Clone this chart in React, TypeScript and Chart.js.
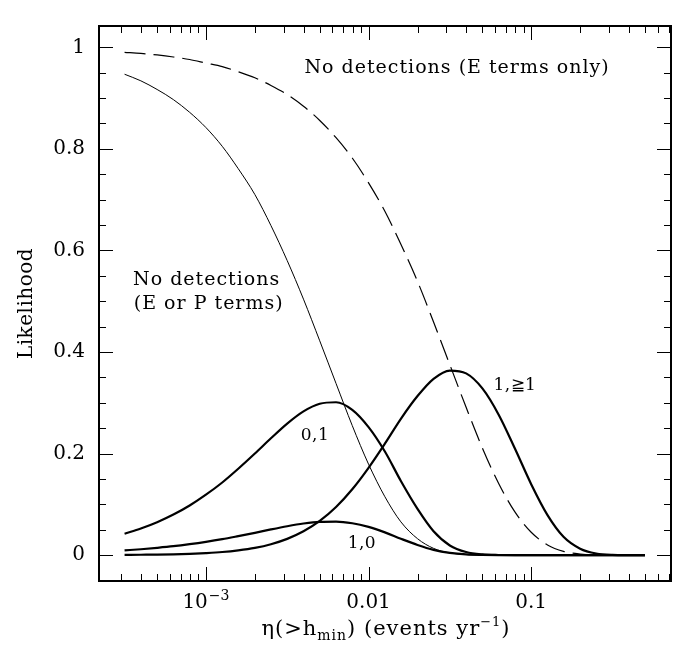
import React, { useEffect, useRef } from "react";
import { Chart, registerables } from "chart.js";

Chart.register(...registerables);

// ---- data ----
const ETA = [
  0.000316, 0.000398, 0.000501, 0.000631, 0.000794, 0.001, 0.00126, 0.00158, 0.002, 0.00251,
  0.00316, 0.00398, 0.00501, 0.00631, 0.00794, 0.01, 0.0126, 0.0158, 0.02, 0.0251,
  0.0316, 0.0398, 0.0501, 0.0631, 0.0794, 0.1, 0.126, 0.158, 0.2, 0.251,
  0.316, 0.398, 0.501,
];

// No detections (E or P terms) - thin solid
const NO_DET_EP = [
  0.947, 0.934, 0.917, 0.897, 0.872, 0.842, 0.805, 0.761, 0.71, 0.649,
  0.58, 0.504, 0.422, 0.338, 0.255, 0.179, 0.115, 0.0655, 0.0323, 0.0133,
  0.0043, 0.0011, 0.0002, 0, 0, 0, 0, 0, 0, 0,
  0, 0, 0,
];

// No detections (E terms only) - dashed
const NO_DET_E = [
  0.99, 0.988, 0.985, 0.981, 0.976, 0.969, 0.962, 0.952, 0.94, 0.925,
  0.907, 0.884, 0.856, 0.822, 0.782, 0.733, 0.677, 0.612, 0.539, 0.459,
  0.375, 0.291, 0.211, 0.141, 0.085, 0.045, 0.02, 0.0073, 0.0021, 0.0004,
  0.0001, 0, 0,
];

// 0,1
const L_01 = [
  0.0422, 0.0524, 0.0648, 0.0798, 0.0977, 0.119, 0.143, 0.17, 0.2, 0.23,
  0.259, 0.283, 0.298, 0.301, 0.286, 0.252, 0.204, 0.146, 0.091, 0.047,
  0.019, 0.006, 0.0013, 0.0002, 0, 0, 0, 0, 0, 0,
  0, 0, 0,
];

// 1,0
const L_10 = [
  0.0093, 0.0115, 0.0143, 0.0175, 0.0215, 0.0261, 0.0314, 0.0374, 0.0439, 0.0506,
  0.0569, 0.0622, 0.0656, 0.0661, 0.0628, 0.0555, 0.0448, 0.0322, 0.02, 0.0104,
  0.0043, 0.0013, 0.0003, 0, 0, 0, 0, 0, 0, 0,
  0, 0, 0,
];

// 1,>=1
const L_1GE1 = [
  0.0004, 0.0007, 0.001, 0.0016, 0.0025, 0.004, 0.0061, 0.0094, 0.0143, 0.0215,
  0.032, 0.0469, 0.0674, 0.0948, 0.1297, 0.1719, 0.2194, 0.2684, 0.3132, 0.3471,
  0.3635, 0.3579, 0.3283, 0.2766, 0.2099, 0.1397, 0.0788, 0.0361, 0.0127, 0.0032,
  0.0005, 0.0001, 0,
];

const X_TICKS = [0.001, 0.01, 0.1];
// each label: [base, superscript]
const X_TICK_LABELS: [string, string][] = [["10", "\u22123"], ["0.01", ""], ["0.1", ""]];
const X_MINOR = [
  0.0003, 0.0004, 0.0005, 0.0006, 0.0007, 0.0008, 0.0009,
  0.002, 0.003, 0.004, 0.005, 0.006, 0.007, 0.008, 0.009,
  0.02, 0.03, 0.04, 0.05, 0.06, 0.07, 0.08, 0.09,
  0.2, 0.3, 0.4, 0.5, 0.6, 0.7,
];
const Y_TICKS = [0, 0.2, 0.4, 0.6, 0.8, 1];
const Y_TICK_LABELS = ["0", "0.2", "0.4", "0.6", "0.8", "1"];
const Y_MINOR = [0.05, 0.1, 0.15, 0.25, 0.3, 0.35, 0.45, 0.5, 0.55, 0.65, 0.7, 0.75, 0.85, 0.9, 0.95];

const X_MIN = 0.00022;
const X_MAX = 0.724;
const Y_MIN = -0.051;
const Y_MAX = 1.042;

const Y_TITLE = "Likelihood";

const ANNOTATIONS = [
  { text: "No detections (E terms only)", x: 0.035, y: 0.96 },
  { text: "No detections", x: 0.00101, y: 0.541 },
  { text: "(E or P terms)", x: 0.00104, y: 0.495 },
  { text: "0,1", x: 0.00468, y: 0.236 },
  { text: "1,0", x: 0.0091, y: 0.023 },
  { text: "1,\u22671", x: 0.0794, y: 0.333 },
];

const FONT = "'DejaVu Serif', 'Liberation Serif', serif";

const framePlugin = {
  id: "frame",
  afterDraw(chart: any) {
    const { ctx, chartArea: a, scales } = chart;
    const xs = scales.x;
    const ys = scales.y;
    ctx.save();
    ctx.strokeStyle = "#000";
    ctx.fillStyle = "#000";
    ctx.lineWidth = 1;
    const vt = (v: number, len: number) => {
      const px = Math.round(xs.getPixelForValue(v)) + 0.5;
      ctx.beginPath();
      ctx.moveTo(px, a.bottom);
      ctx.lineTo(px, a.bottom - len);
      ctx.moveTo(px, a.top);
      ctx.lineTo(px, a.top + len);
      ctx.stroke();
    };
    const ht = (v: number, len: number) => {
      const py = Math.round(ys.getPixelForValue(v)) + 0.5;
      ctx.beginPath();
      ctx.moveTo(a.left, py);
      ctx.lineTo(a.left + len, py);
      ctx.moveTo(a.right, py);
      ctx.lineTo(a.right - len, py);
      ctx.stroke();
    };
    X_TICKS.forEach((v) => vt(v, 14));
    X_MINOR.forEach((v) => vt(v, 7));
    Y_TICKS.forEach((v) => ht(v, 14));
    Y_MINOR.forEach((v) => ht(v, 7));

    ctx.lineWidth = 2;
    ctx.strokeRect(a.left, a.top, a.right - a.left, a.bottom - a.top);

    ctx.textBaseline = "middle";
    ctx.textAlign = "left";

    // x tick labels (with superscript exponent)
    X_TICKS.forEach((v, i) => {
      const [base, sup] = X_TICK_LABELS[i];
      ctx.font = `20px ${FONT}`;
      (ctx as any).letterSpacing = "0px";
      const wb = ctx.measureText(base).width;
      ctx.font = `14px ${FONT}`;
      const ws = sup ? ctx.measureText(sup).width + 1 : 0;
      const x0 = xs.getPixelForValue(v) - (wb + ws) / 2;
      ctx.font = `20px ${FONT}`;
      ctx.fillText(base, x0, 603);
      if (sup) {
        ctx.font = `14px ${FONT}`;
        ctx.fillText(sup, x0 + wb + 1, 596);
      }
    });

    // annotations
    ANNOTATIONS.forEach((n, i) => {
      const big = i < 3;
      ctx.font = `${big ? 19 : 17}px ${FONT}`;
      (ctx as any).letterSpacing = big ? "1px" : "0.5px";
      const w = ctx.measureText(n.text).width;
      ctx.fillText(n.text, xs.getPixelForValue(n.x) - w / 2, ys.getPixelForValue(n.y));
    });

    // x title with sub/superscript
    const parts = [
      { t: "\u03B7(>h", s: 21, dy: 0 },
      { t: "min", s: 14, dy: 6 },
      { t: ") (events yr", s: 21, dy: 0 },
      { t: "\u22121", s: 13, dy: -7 },
      { t: ")", s: 21, dy: 0 },
    ];
    (ctx as any).letterSpacing = "1px";
    let total = 0;
    const widths = parts.map((p) => {
      ctx.font = `${p.s}px ${FONT}`;
      const w = ctx.measureText(p.t).width;
      total += w;
      return w;
    });
    let cx = (a.left + a.right) / 2 + 1 - total / 2;
    const cy = 630;
    parts.forEach((p, i) => {
      ctx.font = `${p.s}px ${FONT}`;
      ctx.fillText(p.t, cx, cy + p.dy);
      cx += widths[i];
    });

    // y title
    ctx.font = `20px ${FONT}`;
    (ctx as any).letterSpacing = "0.5px";
    ctx.translate(27, (a.top + a.bottom) / 2);
    ctx.rotate(-Math.PI / 2);
    ctx.textAlign = "left";
    const yw = ctx.measureText(Y_TITLE).width;
    ctx.fillText(Y_TITLE, -yw / 2, 0);
    ctx.restore();
  },
};

function series(vals: number[]) {
  return ETA.map((x, i) => ({ x, y: vals[i] }));
}

export default function App() {
  const ref = useRef<HTMLCanvasElement>(null);
  useEffect(() => {
    document.body.style.margin = "0";
    const canvas = ref.current!;
    const thick = { borderColor: "#000", borderWidth: 2.2, pointRadius: 0, cubicInterpolationMode: "monotone" as const, fill: false };
    const chart = new Chart(canvas, {
      type: "line",
      data: {
        datasets: [
          { label: "No detections (E or P terms)", data: series(NO_DET_EP), borderColor: "#000", borderWidth: 1, pointRadius: 0, cubicInterpolationMode: "monotone", fill: false },
          { label: "No detections (E terms only)", data: series(NO_DET_E), borderColor: "#000", borderWidth: 1.2, borderDash: [21, 8], pointRadius: 0, cubicInterpolationMode: "monotone", fill: false },
          { label: "0,1", data: series(L_01), ...thick },
          { label: "1,0", data: series(L_10), ...thick },
          { label: "1,\u22671", data: series(L_1GE1), ...thick },
        ],
      },
      options: {
        animation: false,
        responsive: false,
        devicePixelRatio: 1,
        layout: { padding: { top: 7, right: 19, left: 0, bottom: 0 } },
        plugins: { legend: { display: false }, tooltip: { enabled: false } },
        scales: {
          x: {
            type: "logarithmic",
            min: X_MIN,
            max: X_MAX,
            grid: { display: false, drawTicks: false },
            border: { display: false },
            afterBuildTicks: (s: any) => {
              s.ticks = X_TICKS.map((v) => ({ value: v }));
            },
            afterFit: (s: any) => {
              s.height = 69;
            },
            ticks: { display: false, autoSkip: false, maxRotation: 0 },
          },
          y: {
            type: "linear",
            min: Y_MIN,
            max: Y_MAX,
            grid: { display: false, drawTicks: false },
            border: { display: false },
            afterBuildTicks: (s: any) => {
              s.ticks = Y_TICKS.map((v) => ({ value: v }));
            },
            afterFit: (s: any) => {
              s.width = 99;
            },
            ticks: {
              padding: 14,
              color: "#000",
              font: { family: FONT, size: 20 },
              callback: (_v: any, i: number) => Y_TICK_LABELS[i],
            },
          },
        },
      } as any,
      plugins: [framePlugin],
    });
    return () => chart.destroy();
  }, []);
  return (
    <canvas
      ref={ref}
      width={690}
      height={650}
      style={{ display: "block", width: 690, height: 650 }}
    />
  );
}
